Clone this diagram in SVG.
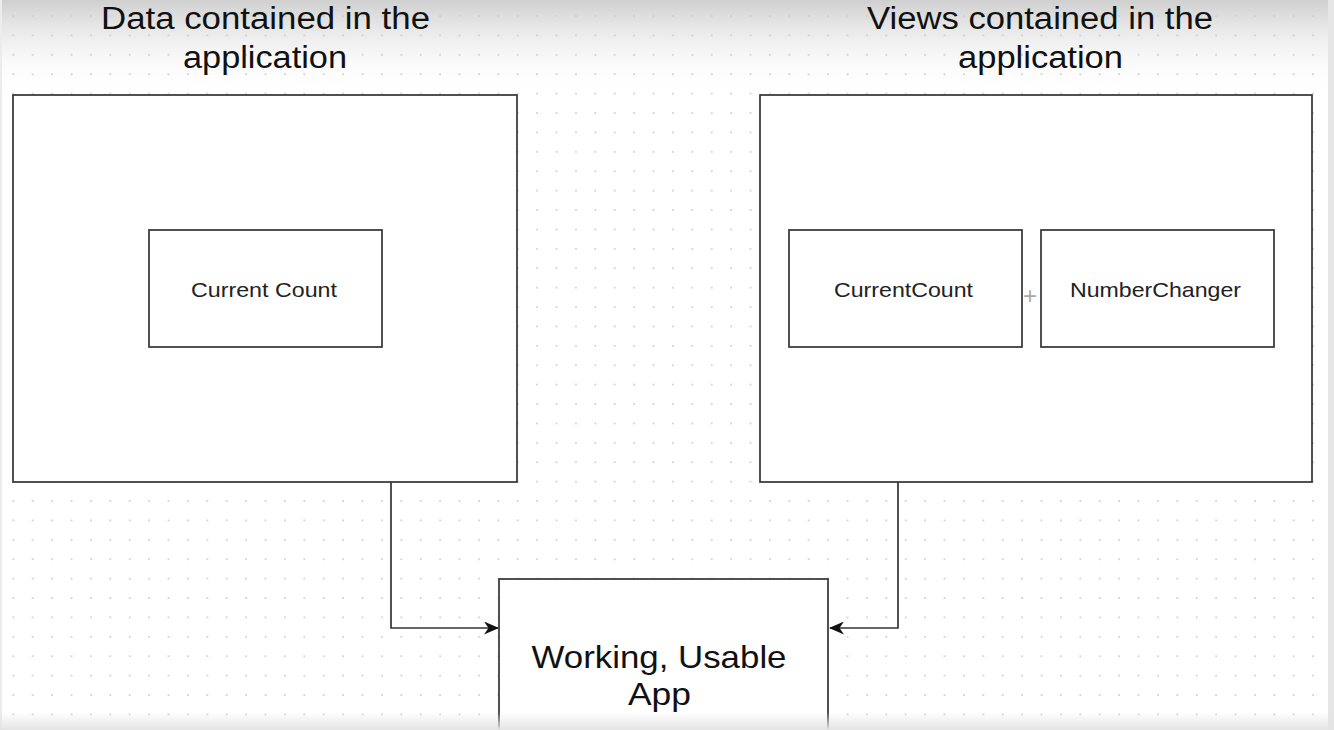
<svg xmlns="http://www.w3.org/2000/svg" width="1334" height="730" viewBox="0 0 1334 730">
<style>
.box{fill:#ffffff;stroke:#333333;stroke-width:1.7}
.edge{fill:none;stroke:#333333;stroke-width:1.7}
.title{font-family:"Liberation Sans",Arial,sans-serif;font-size:31px;fill:#111;text-anchor:middle}
.lbl{font-family:"Liberation Sans",Arial,sans-serif;font-size:21px;fill:#222;text-anchor:middle}
.big{font-family:"Liberation Sans",Arial,sans-serif;font-size:32px;fill:#111;text-anchor:middle}
</style>
<defs>
<pattern id="dots" x="3.6" y="6.3" width="19.4" height="19.4" patternUnits="userSpaceOnUse">
<rect x="8.9" y="8.9" width="1.7" height="1.7" fill="#cccccc"/>
</pattern>
<linearGradient id="topg" x1="0" y1="0" x2="0" y2="1">
<stop offset="0" stop-color="#cfcfcf" stop-opacity="1"/>
<stop offset="1" stop-color="#ffffff" stop-opacity="0"/>
</linearGradient>
<linearGradient id="botg" x1="0" y1="0" x2="0" y2="1">
<stop offset="0" stop-color="#e4e4e4" stop-opacity="0"/>
<stop offset="1" stop-color="#e4e4e4" stop-opacity="1"/>
</linearGradient>
<marker id="arr" viewBox="0 0 15 13" refX="14" refY="6.5" markerWidth="15" markerHeight="13" markerUnits="userSpaceOnUse" orient="auto">
<path d="M0,0 L15,6.5 L0,13 L4.5,6.5 Z" fill="#111"/>
</marker>
</defs>
<rect width="1334" height="730" fill="#ffffff"/>
<rect width="1334" height="95" fill="url(#topg)"/>
<rect width="1334" height="730" fill="url(#dots)"/>
<rect x="0" y="0" width="2" height="730" fill="#ececec"/>
<rect x="1328" y="0" width="6" height="730" fill="#e6e6e6"/>

<g id="title-data">
<text class="title" x="265.5" y="29" textLength="329" lengthAdjust="spacingAndGlyphs">Data contained in the</text>
<text class="title" x="265" y="68" textLength="164" lengthAdjust="spacingAndGlyphs">application</text>
</g>
<g id="title-views">
<text class="title" x="1040" y="29" textLength="346" lengthAdjust="spacingAndGlyphs">Views contained in the</text>
<text class="title" x="1040.5" y="68" textLength="165" lengthAdjust="spacingAndGlyphs">application</text>
</g>

<g id="connectors">
<path class="edge" d="M391,482 V628 H498" marker-end="url(#arr)"/>
<path class="edge" d="M898,482 V628 H830" marker-end="url(#arr)"/>
</g>

<g id="data-container">
<rect class="box" x="13" y="95" width="504" height="387"/>
</g>
<g id="current-count-data">
<rect class="box" x="149" y="230" width="233" height="117"/>
<text class="lbl" x="264" y="297" textLength="146" lengthAdjust="spacingAndGlyphs">Current Count</text>
</g>
<g id="views-container">
<rect class="box" x="760" y="95" width="552" height="387"/>
</g>
<g id="current-count-view">
<rect class="box" x="789" y="230" width="233" height="117"/>
<text class="lbl" x="903.5" y="297" textLength="139" lengthAdjust="spacingAndGlyphs">CurrentCount</text>
</g>
<g id="number-changer">
<rect class="box" x="1041" y="230" width="233" height="117"/>
<text class="lbl" x="1155.5" y="297" textLength="171" lengthAdjust="spacingAndGlyphs">NumberChanger</text>
</g>
<text x="1030" y="303.5" font-family="Liberation Sans,Arial,sans-serif" font-size="24" fill="#a8a8a8" text-anchor="middle">+</text>
<g id="working-app">
<rect class="box" x="499" y="579" width="329" height="200"/>
<text class="big" x="659" y="668" textLength="255" lengthAdjust="spacingAndGlyphs">Working, Usable</text>
<text class="big" x="659.5" y="705" textLength="63" lengthAdjust="spacingAndGlyphs">App</text>
</g>
<rect x="0" y="712" width="1334" height="18" fill="url(#botg)"/>
</svg>
